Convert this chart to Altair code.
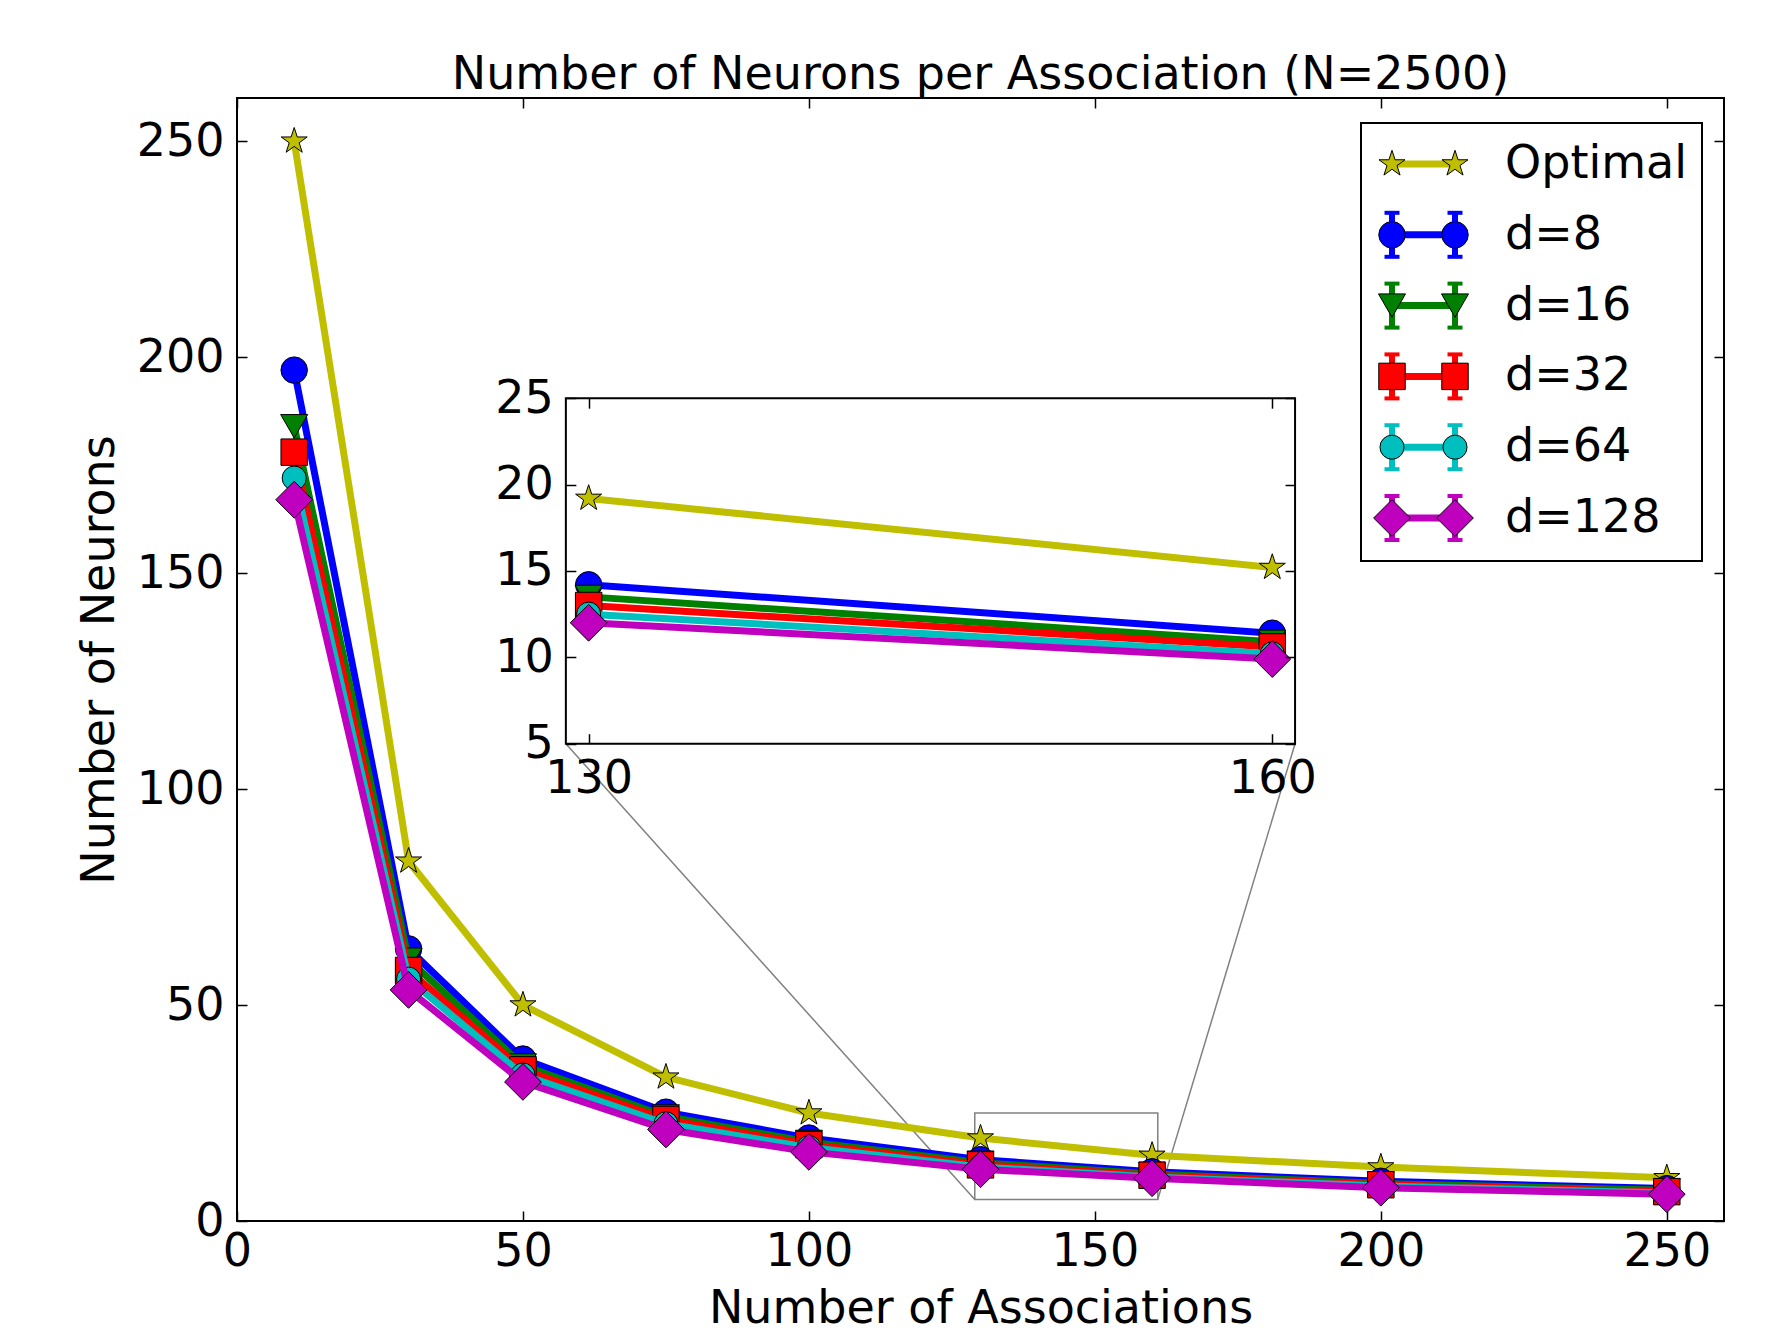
import altair as alt
import pandas as pd

# ---------------- data ----------------
associations = [10, 30, 50, 75, 100, 130, 160, 200, 250]
optimal = [250, 83.3, 50, 33.3, 25, 19.2, 15.2, 12.5, 10]
d8 = [197, 63, 37.5, 25.2, 19.2, 14.2, 11.4, 9.2, 7.5]
d16 = [184, 60.5, 36, 24.2, 18.3, 13.5, 10.9, 8.7, 7.1]
d32 = [178, 58, 35, 23.5, 17.7, 13.0, 10.6, 8.4, 6.8]
d64 = [172, 56, 33.8, 22.5, 17.0, 12.5, 10.2, 8.1, 6.5]
d128 = [167, 53.5, 32.2, 21.2, 16.0, 12.0, 9.9, 7.7, 6.2]

series_names = ["Optimal", "d=8", "d=16", "d=32", "d=64", "d=128"]
series_values = [optimal, d8, d16, d32, d64, d128]

x_ticks = [0, 50, 100, 150, 200, 250]
y_ticks = [0, 50, 100, 150, 200, 250]
inset_x_ticks = [130, 160]
inset_y_ticks = [5, 10, 15, 20, 25]

main_x_domain = [0, 260]
main_y_domain = [0, 260]
zoom_x = [129, 161]
zoom_y = [5, 25]
# where the inset sits, in main-axis data units
inset_box_x = [57.5, 185]
inset_box_y = [110.5, 190.5]

title_text = "Number of Neurons per Association (N=2500)"
x_title = "Number of Associations"
y_title = "Number of Neurons"

# ---------------- style ----------------
colors = ["#bfbf00", "#0000ff", "#008000", "#ff0000", "#00bfbf", "#bf00bf"]
STAR = ("M0,-1L0.2245,-0.309L0.951,-0.309L0.3633,0.118L0.5878,0.809L0,0.382"
        "L-0.5878,0.809L-0.3633,0.118L-0.951,-0.309L-0.2245,-0.309Z")
shapes = [STAR, "circle", "triangle-down", "square", "circle", "diamond"]
sizes = [750, 700, 730, 700, 580, 1350]
has_errorbar = [False, True, True, True, True, True]

W, H = 1487, 1123
FONT = "DejaVu Sans"
FS = 46
TICK = 10
LW = 7

# ---------------- tables ----------------
rows = []
for name, vals in zip(series_names, series_values):
    for xv, yv in zip(associations, vals):
        rows.append({"series": name, "x": xv, "y": yv})
df = pd.DataFrame(rows)
df_inset = df[(df.x >= zoom_x[0]) & (df.x <= zoom_x[1])]

zoom_df = pd.DataFrame({"x1": [zoom_x[0]], "x2": [zoom_x[1]], "y1": [zoom_y[0]], "y2": [zoom_y[1]]})
conn_df = pd.DataFrame({
    "x": [zoom_x[0], zoom_x[1]], "y": [zoom_y[0], zoom_y[0]],
    "x2": [inset_box_x[0], inset_box_x[1]], "y2": [inset_box_y[0], inset_box_y[0]],
})
main_dummy = pd.DataFrame({"x": [main_x_domain[0]], "y": [main_y_domain[0]]})
inset_dummy = pd.DataFrame({"x": [zoom_x[0]], "y": [zoom_y[0]]})

# inset pixel region inside plot area
ix0 = W * (inset_box_x[0] - main_x_domain[0]) / (main_x_domain[1] - main_x_domain[0])
ix1 = W * (inset_box_x[1] - main_x_domain[0]) / (main_x_domain[1] - main_x_domain[0])
iyb = H * (1 - (inset_box_y[0] - main_y_domain[0]) / (main_y_domain[1] - main_y_domain[0]))
iyt = H * (1 - (inset_box_y[1] - main_y_domain[0]) / (main_y_domain[1] - main_y_domain[0]))

# ---------------- scales / axes ----------------
mxs = alt.Scale(domain=main_x_domain, nice=False, zero=False)
mys = alt.Scale(domain=main_y_domain, nice=False, zero=False)
ixs = alt.Scale(domain=zoom_x, range=[ix0, ix1], nice=False, zero=False)
iys = alt.Scale(domain=zoom_y, range=[iyb, iyt], nice=False, zero=False)

lab = dict(labelFont=FONT, labelFontSize=FS, labelColor="black", tickColor="black", tickWidth=1.5,
           domain=False, grid=False, labelFlush=False, labelOverlap=False, zindex=1)
ttl = dict(titleFont=FONT, titleFontSize=FS, titleFontWeight="normal", titleColor="black")

main_x_axis = alt.Axis(orient="bottom", values=x_ticks, offset=-TICK, tickSize=TICK,
                       labelPadding=8, title=x_title, titleX=W / 2, titleY=111,
                       titleBaseline="alphabetic", titleAlign="center", format="d", **lab, **ttl)
main_y_axis = alt.Axis(orient="left", values=y_ticks, offset=-TICK, tickSize=TICK,
                       labelPadding=13, title=y_title, titleX=-134, titleY=H / 2,
                       titleAngle=270, titleBaseline="alphabetic", titleAlign="center",
                       format="d", **lab, **ttl)
mirror_x_axis = alt.Axis(orient="top", values=x_ticks, offset=-TICK, tickSize=TICK,
                         labels=False, title=None, **lab)
mirror_y_axis = alt.Axis(orient="right", values=y_ticks, offset=-TICK, tickSize=TICK,
                         labels=False, title=None, **lab)
inset_x_axis = alt.Axis(orient="bottom", values=inset_x_ticks, offset=iyb - TICK - H,
                        tickSize=TICK, labelPadding=13, title=None, format="d", **lab)
inset_y_axis = alt.Axis(orient="left", values=inset_y_ticks, offset=-(ix0 + TICK),
                        tickSize=TICK, labelPadding=12.5, title=None, format="d", **lab)
inset_mx_axis = alt.Axis(orient="top", values=inset_x_ticks, offset=-(iyt + TICK),
                         tickSize=TICK, labels=False, title=None, **lab)
inset_my_axis = alt.Axis(orient="right", values=inset_y_ticks, offset=ix1 - TICK - W,
                         tickSize=TICK, labels=False, title=None, **lab)


def series_layers(data, xs, ys):
    out = []
    for name, c, shp, sz in zip(series_names, colors, shapes, sizes):
        sub = data[data.series == name]
        enc = dict(x=alt.X("x:Q", scale=xs, axis=None), y=alt.Y("y:Q", scale=ys, axis=None))
        out.append(alt.Chart(sub).mark_line(color=c, strokeWidth=LW, strokeJoin="round").encode(**enc))
        out.append(alt.Chart(sub).mark_point(shape=shp, size=sz, filled=True, fill=c, stroke="black",
                                             strokeWidth=1, opacity=1).encode(**enc))
    return out


def axis_layer(data, xs, ys, xa, ya):
    return alt.Chart(data).mark_point(opacity=0).encode(
        x=alt.X("x:Q", scale=xs, axis=xa), y=alt.Y("y:Q", scale=ys, axis=ya))


# ---------------- main panel ----------------
zoom_rect = alt.Chart(zoom_df).mark_rect(filled=False, color="#808080", strokeWidth=1.5).encode(
    x=alt.X("x1:Q", scale=mxs, axis=None), x2="x2:Q",
    y=alt.Y("y1:Q", scale=mys, axis=None), y2="y2:Q")
connectors = alt.Chart(conn_df).mark_rule(color="#808080", strokeWidth=1.5).encode(
    x=alt.X("x:Q", scale=mxs, axis=None), x2="x2:Q",
    y=alt.Y("y:Q", scale=mys, axis=None), y2="y2:Q")
main_group = alt.layer(zoom_rect, connectors, *series_layers(df, mxs, mys))
main_axes = axis_layer(main_dummy, mxs, mys, main_x_axis, main_y_axis)
main_mirror = axis_layer(main_dummy, mxs, mys, mirror_x_axis, mirror_y_axis)

# ---------------- inset ----------------
inset_frame = alt.Chart(zoom_df).mark_rect(fill="white", stroke="black", strokeWidth=2).encode(
    x=alt.X("x1:Q", scale=ixs, axis=None), x2="x2:Q",
    y=alt.Y("y1:Q", scale=iys, axis=None), y2="y2:Q")
inset_group = alt.layer(inset_frame, *series_layers(df_inset, ixs, iys))
inset_axes = axis_layer(inset_dummy, ixs, iys, inset_x_axis, inset_y_axis)
inset_mirror = axis_layer(inset_dummy, ixs, iys, inset_mx_axis, inset_my_axis)

# ---------------- legend ----------------
leg_y = alt.Scale(type="point", domain=series_names, range=[66, 420], padding=0)
leg_x = alt.Scale(domain=[0, 1], range=[1155, 1218])
legend_df = pd.DataFrame([{"series": n, "pos": p} for n in series_names for p in (0, 1)])
names_df = pd.DataFrame({"series": series_names})

leg_layers = [
    alt.Chart(pd.DataFrame({"a": [0]})).mark_rect(fill="white", stroke="black", strokeWidth=2).encode(
        x=alt.value(1124), x2=alt.value(1465), y=alt.value(25), y2=alt.value(463))
]
for name, c, shp, sz, err in zip(series_names, colors, shapes, sizes, has_errorbar):
    sub = legend_df[legend_df.series == name]
    ex = alt.X("pos:Q", scale=leg_x, axis=None)
    ey = alt.Y("series:N", scale=leg_y, axis=None)
    leg_layers.append(alt.Chart(sub).mark_line(color=c, strokeWidth=LW).encode(x=ex, y=ey))
    if err:
        leg_layers.append(alt.Chart(sub).mark_tick(orient="vertical", color=c, size=46, thickness=6,
                                                   opacity=1).encode(x=ex, y=ey))
        for off in (-22, 22):
            leg_layers.append(alt.Chart(sub).mark_tick(orient="horizontal", color=c, size=15,
                                                       thickness=4, yOffset=off, opacity=1).encode(x=ex, y=ey))
    leg_layers.append(alt.Chart(sub).mark_point(shape=shp, size=sz, filled=True, fill=c, stroke="black",
                                                strokeWidth=1, opacity=1).encode(x=ex, y=ey))
leg_layers.append(alt.Chart(names_df).mark_text(align="left", baseline="middle", font=FONT, fontSize=FS,
                                                color="black").encode(
    x=alt.value(1268), y=alt.Y("series:N", scale=leg_y, axis=None), text="series:N"))
legend_group = alt.layer(*leg_layers)

# ---------------- title ----------------
title_layer = alt.Chart(pd.DataFrame({"t": [title_text]})).mark_text(
    align="center", baseline="alphabetic", font=FONT, fontSize=FS, color="black"
).encode(x=alt.value(W / 2), y=alt.value(-9), text="t:N")

# ---------------- compose ----------------
chart = alt.layer(
    main_group, main_axes, main_mirror, inset_group, inset_axes, inset_mirror, legend_group, title_layer
).resolve_scale(
    x="independent", y="independent"
).properties(
    width=W, height=H,
    padding={"left": 229, "top": 90, "right": 49, "bottom": 111},
    autosize=alt.AutoSizeParams(type="none"),
    background="white",
).configure_view(
    stroke="black", strokeWidth=2
)

chart.save("out.html", embed_options={"renderer": "svg", "actions": False})
